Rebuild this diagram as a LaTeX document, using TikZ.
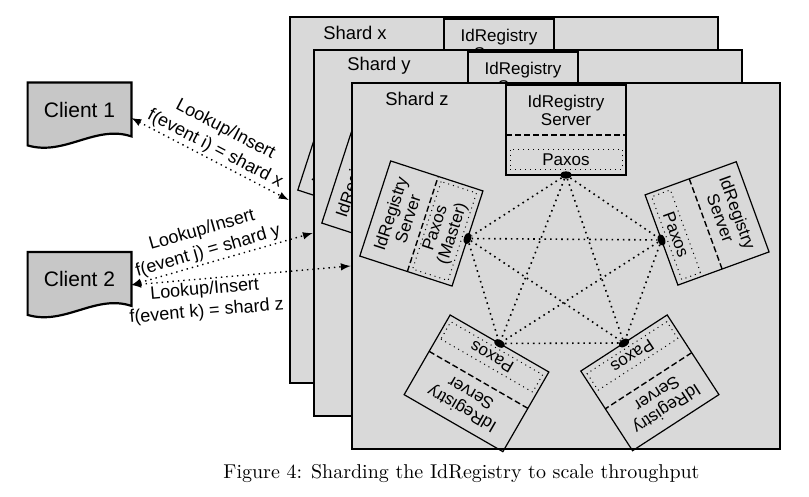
\documentclass[tikz,border=0pt]{standalone}
\usepackage{fontspec}
\usetikzlibrary{shapes.geometric}
\newfontfamily\diagfont{Liberation Sans}
\definecolor{shardgray}{gray}{0.85}
\definecolor{clientgray}{gray}{0.78}
\tikzset{
  shardbox/.style={draw,line width=1.3pt,fill=shardgray,minimum width=214pt,minimum height=183pt,inner sep=0},
  shardlabel/.style={font=\diagfont\fontsize{9.2}{11}\selectfont},
  serverbox/.style={draw,line width=0.6pt,inner sep=0},
  servertext/.style={font=\diagfont\fontsize{8.5}{9}\selectfont,align=center},
  paxosbox/.style={draw,dotted,line width=0.5pt,inner sep=1pt,minimum height=10pt,font=\diagfont\fontsize{8.5}{9}\selectfont,align=center},
  serverdot/.style={ellipse,fill=black,inner sep=0,minimum width=6pt,minimum height=3.6pt},
  link/.style={dotted,line width=0.8pt},
  clientbox/.style={minimum width=51.5pt,minimum height=31pt,inner sep=0},
  clientline/.style={draw,line width=1.1pt,fill=clientgray},
  clienttext/.style={font=\diagfont\fontsize{10.5}{12}\selectfont},
  request/.style={dotted,line width=0.7pt,<->,>=latex},
  reqlabel/.style={font=\diagfont\fontsize{9}{11}\selectfont,align=center,sloped,inner sep=1pt}
}
% one server box, drawn from its Paxos dot
\newcommand{\idserver}[6]{%
  \begin{scope}[shift={(#2)},rotate=#3,transform shape]
    \node[serverbox,minimum width=0.5pt*#4,minimum height=0.5pt*#5] (#1) at (0,{0.5*#5}) {};
    \draw[dash pattern=on 3pt off 1.5pt,line width=0.7pt] ({-0.5*#4},{#5-50}) -- ({0.5*#4},{#5-50});
    \node[servertext] (#1-name) at (0,{#5-25}) {IdRegistry\\Server};
    \node[paxosbox,minimum width={0.5pt*(#4-8)},anchor=south] (#1-paxos) at (0,5) {#6};
    \node[serverdot] (#1-dot) at (0,0) {};
  \end{scope}}
% one shard with its five servers
\newcommand{\shard}[4]{%
  \begin{scope}[shift={(#2)}]
    \node[shardbox] (#1) at (566,231) {};
    \node[shardlabel] (#1-label) at (417,398) {#3};
    \idserver{#1-t}{{506+0.5*#4},322}{0}{#4}{90}{Paxos}
    \idserver{#1-l}{467.5,258.5}{72}{100}{97}{Paxos\\(Master)}
    \idserver{#1-r}{661.5,257}{-70}{96}{97}{Paxos}
    \idserver{#1-bl}{499.5,153.5}{150}{114}{92}{Paxos}
    \idserver{#1-br}{624,154}{-147}{103}{95}{Paxos}
    \foreach \p/\q in {t/l,t/r,t/bl,t/br,l/r,l/bl,l/br,r/bl,r/br,bl/br}
      \draw[link] (#1-\p-dot) -- (#1-\q-dot);
  \end{scope}}
\newcommand{\clientdoc}[3]{%
  \node[clientbox] (#1) at (#2) {};
  \path[clientline] (#1.north west) -- (#1.north east) -- ([yshift=4.5pt]#1.south east)
    .. controls ([shift={(-18pt,10.5pt)}]#1.south east) and ([shift={(18.5pt,-5.5pt)}]#1.south west) .. (#1.south west) -- cycle;
  \node[clienttext] (#1-text) at ([yshift=2pt]#1.center) {#3}}

\begin{document}
\begin{tikzpicture}[x=0.5pt,y=0.5pt]
  \useasboundingbox (0,0) rectangle (809,497);
  \shard{shardx}{-62,66}{Shard x}{110}
  \shard{shardy}{-38,33}{Shard y}{110}
  \shard{shardz}{0,0}{Shard z}{120}
  \clientdoc{c1}{79.5,383}{Client 1};
  \clientdoc{c2}{79.5,213.5}{Client 2};
  \draw[request] ([yshift=-2pt]c1.east) -- node[reqlabel,above] (l1) {Lookup/Insert\\f(event i) = shard x} (shardx.west);
  \draw[request] ([yshift=-0.75pt]c2.east) -- node[reqlabel,above,pos=0.44] (l2) {Lookup/Insert\\f(event j) = shard y} (shardy.west);
  \draw[request] ([yshift=-0.75pt]c2.east) -- node[reqlabel,below,pos=0.33] (l3) {Lookup/Insert\\f(event k) = shard z} (shardz.west);
  \node (caption) at (461.5,23) {Figure 4: Sharding the IdRegistry to scale throughput};
\end{tikzpicture}
\end{document}
